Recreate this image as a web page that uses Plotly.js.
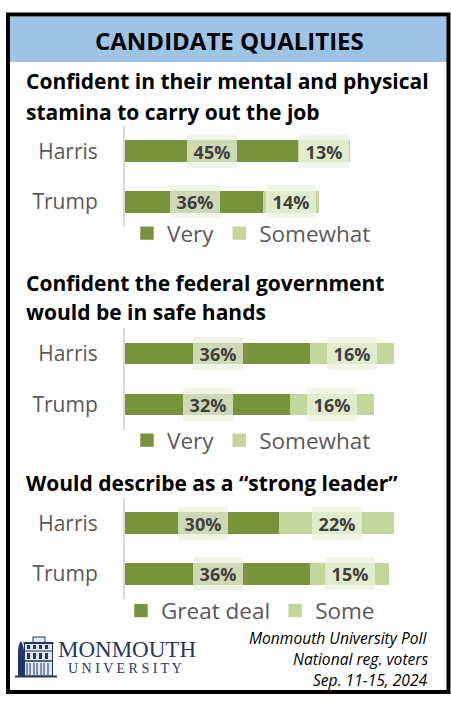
<!DOCTYPE html>
<html>
<head>
<meta charset="utf-8">
<script src="https://cdn.plot.ly/plotly-3.0.1.min.js"></script>
<style>
html,body{margin:0;padding:0;background:#fff;}
#chart{width:451px;height:703px;}
</style>
</head>
<body>
<div id="chart"></div>
<script>
// ---- data ----
const candidates = ['Harris', 'Trump'];
const headerText = 'CANDIDATE QUALITIES';
const title1 = ['Confident in their mental and physical', 'stamina to carry out the job'];
const title2 = ['Confident the federal government', 'would be in safe hands'];
const title3 = ['Would describe as a \u201cstrong leader\u201d'];
const series1Names = ['Very', 'Somewhat'];
const series2Names = ['Very', 'Somewhat'];
const series3Names = ['Great deal', 'Some'];
const staminaVery = [45, 36];
const staminaSomewhat = [13, 14];
const safeHandsVery = [36, 32];
const safeHandsSomewhat = [16, 16];
const strongLeaderGreatDeal = [30, 36];
const strongLeaderSome = [22, 15];
const sourceLines = ['Monmouth University Poll', 'National reg. voters', 'Sep. 11-15, 2024'];

// ---- styling helpers ----
const W = 451, H = 703;
const px = v => v / W;
const py = v => 1 - v / H;
const DARK = '#77933c', LIGHT = '#c3d69b';
const LABEL_BG = 'rgba(235,241,222,0.74)';
const FONT = 'Open Sans, Noto Sans, sans-serif';

const panels = [
  {names: series1Names, a: staminaVery, b: staminaSomewhat, title: title1, yTop: 126, yBot: 227, xmax: 76.3, legY: 233.5, legX: 127},
  {names: series2Names, a: safeHandsVery, b: safeHandsSomewhat, title: title2, yTop: 328, yBot: 430, xmax: 57.1, legY: 440.5, legX: 127},
  {names: series3Names, a: strongLeaderGreatDeal, b: strongLeaderSome, title: title3, yTop: 498, yBot: 599, xmax: 57.1, legY: 611, legX: 121}
];
const titleBaselines = [[87, 118], [289, 319], [489]];

const traces = [];
const annotations = [];
const layout = {
  width: W, height: H,
  margin: {l: 0, r: 0, t: 0, b: 0},
  paper_bgcolor: '#ffffff', plot_bgcolor: 'rgba(0,0,0,0)',
  barmode: 'stack', bargap: 0.6,
  showlegend: true,
  hovermode: false,
  font: {family: FONT, color: '#595959'},
  shapes: [],
  annotations: annotations,
  images: []
};

panels.forEach((p, i) => {
  const sfx = i === 0 ? '' : String(i + 1);
  const xa = 'x' + sfx, ya = 'y' + sfx, lg = 'legend' + sfx;
  traces.push({
    type: 'bar', orientation: 'h', y: candidates, x: p.a, name: p.names[0],
    marker: {color: DARK, line: {color: DARK, width: 1.4}}, xaxis: xa, yaxis: ya, legend: lg, hoverinfo: 'skip'
  });
  traces.push({
    type: 'bar', orientation: 'h', y: candidates, x: p.b, name: p.names[1],
    marker: {color: LIGHT, line: {color: LIGHT, width: 1.4}}, xaxis: xa, yaxis: ya, legend: lg, hoverinfo: 'skip'
  });
  layout['xaxis' + sfx] = {
    domain: [px(125), px(420)], range: [0, p.xmax], visible: false,
    anchor: ya, fixedrange: true
  };
  layout['yaxis' + sfx] = {
    domain: [py(p.yBot), py(p.yTop)], type: 'category', range: [1.5, -0.5],
    anchor: xa, showline: true, linecolor: '#d9d9d9', linewidth: 2,
    ticks: '', showgrid: false, zeroline: false, fixedrange: true,
    ticklabelstandoff: 21,
    tickfont: {family: FONT, size: 21, color: '#595959'}
  };
  layout[lg] = {
    orientation: 'h', x: px(p.legX), xanchor: 'left', y: py(p.legY), yanchor: 'middle',
    bgcolor: 'rgba(0,0,0,0)', font: {family: FONT, size: 22.5, color: '#595959'},
    traceorder: 'normal'
  };
  // data labels
  candidates.forEach((c, k) => {
    [[p.a[k], p.a[k] / 2], [p.b[k], p.a[k] + p.b[k] / 2]].forEach(([v, xc]) => {
      annotations.push({
        xref: xa, yref: ya, x: xc, y: c, text: '<b>' + v + '%</b>', showarrow: false,
        bgcolor: LABEL_BG, width: 50, height: 33, borderpad: 0, borderwidth: 0,
        font: {family: FONT, size: 18, color: '#404040'}, xanchor: 'center', yanchor: 'middle'
      });
    });
  });
  // titles
  p.title.forEach((t, j) => {
    annotations.push({
      xref: 'paper', yref: 'paper', x: px(24), y: py(titleBaselines[i][j] - 6.5),
      xanchor: 'left', yanchor: 'middle', showarrow: false, text: '<b>' + t + '</b>',
      font: {family: FONT, size: 21, color: '#000000'}
    });
  });
});

// header band & border
layout.shapes.push({type: 'rect', xref: 'paper', yref: 'paper', x0: px(10), x1: px(447), y0: py(17), y1: py(62),
  fillcolor: '#9dc3e6', line: {width: 0}, layer: 'below'});
layout.shapes.push({type: 'rect', xref: 'paper', yref: 'paper', x0: px(8), x1: px(448.5), y0: py(14.5), y1: py(692),
  fillcolor: 'rgba(0,0,0,0)', line: {width: 4, color: '#000000'}, layer: 'above'});
annotations.push({xref: 'paper', yref: 'paper', x: px(229), y: py(41), xanchor: 'center', yanchor: 'middle',
  showarrow: false, text: '<b>' + headerText + '</b>', font: {family: FONT, size: 24, color: '#000000'}});

// source text
const srcBase = [643, 664, 685];
sourceLines.forEach((t, j) => {
  annotations.push({xref: 'paper', yref: 'paper', x: px(430), y: py(srcBase[j] - 5), xanchor: 'right', yanchor: 'middle',
    showarrow: false, text: '<i>' + t + '</i>', font: {family: FONT, size: 15.6, color: '#000000'}});
});

// logo text
const NAVY = '#1f3864';
annotations.push({xref: 'paper', yref: 'paper', x: px(56), y: py(649), xanchor: 'left', yanchor: 'middle',
  showarrow: false, text: 'MONMOUTH', font: {family: 'Liberation Serif, serif', size: 23, color: NAVY}});
annotations.push({xref: 'paper', yref: 'paper', x: px(66), y: py(668), xanchor: 'left', yanchor: 'middle',
  showarrow: false, text: 'U N I V E R S I T Y', font: {family: 'Liberation Serif, serif', size: 14, color: NAVY}});

// logo building icon
const svg = '<svg xmlns="http://www.w3.org/2000/svg" width="42" height="44" viewBox="0 0 42 44">' +
  '<path d="M3 42 L3 16 Q4 9 6 7 Q8 10 9 16 L9 42 Z" fill="' + NAVY + '"/>' +
  '<rect x="9.5" y="9" width="28" height="33" fill="#e3e8f0" stroke="' + NAVY + '" stroke-width="1"/>' +
  '<rect x="18" y="3" width="12" height="6" fill="#e3e8f0" stroke="' + NAVY + '" stroke-width="1"/>' +
  '<rect x="8.5" y="8" width="30" height="2" fill="' + NAVY + '"/>' +
  '<line x1="9.5" y1="17" x2="37.5" y2="17" stroke="' + NAVY + '" stroke-width="1"/>' +
  '<line x1="9.5" y1="27" x2="37.5" y2="27" stroke="' + NAVY + '" stroke-width="1.5"/>' +
  '<rect x="12" y="11" width="3" height="4" fill="' + NAVY + '"/><rect x="18" y="11" width="3" height="4" fill="' + NAVY + '"/>' +
  '<rect x="24" y="11" width="3" height="4" fill="' + NAVY + '"/><rect x="30" y="11" width="3" height="4" fill="' + NAVY + '"/>' +
  '<rect x="12" y="19" width="3" height="6" fill="' + NAVY + '"/><rect x="18" y="19" width="3" height="6" fill="' + NAVY + '"/>' +
  '<rect x="24" y="19" width="3" height="6" fill="' + NAVY + '"/><rect x="30" y="19" width="3" height="6" fill="' + NAVY + '"/>' +
  '<path d="M12 29 V41 M15 29 V41 M19 29 V41 M22 29 V41 M26 29 V41 M29 29 V41 M33 29 V41" stroke="' + NAVY + '" stroke-width="1"/>' +
  '<line x1="0" y1="42.5" x2="42" y2="42.5" stroke="' + NAVY + '" stroke-width="2"/>' +
  '</svg>';
layout.images.push({
  source: 'data:image/svg+xml;charset=utf-8,' + encodeURIComponent(svg),
  xref: 'paper', yref: 'paper', x: px(15), y: py(634), sizex: px(42) , sizey: 44 / H,
  xanchor: 'left', yanchor: 'top', sizing: 'stretch', layer: 'above'
});

Plotly.newPlot('chart', traces, layout, {displayModeBar: false, staticPlot: true});
</script>
</body>
</html>
